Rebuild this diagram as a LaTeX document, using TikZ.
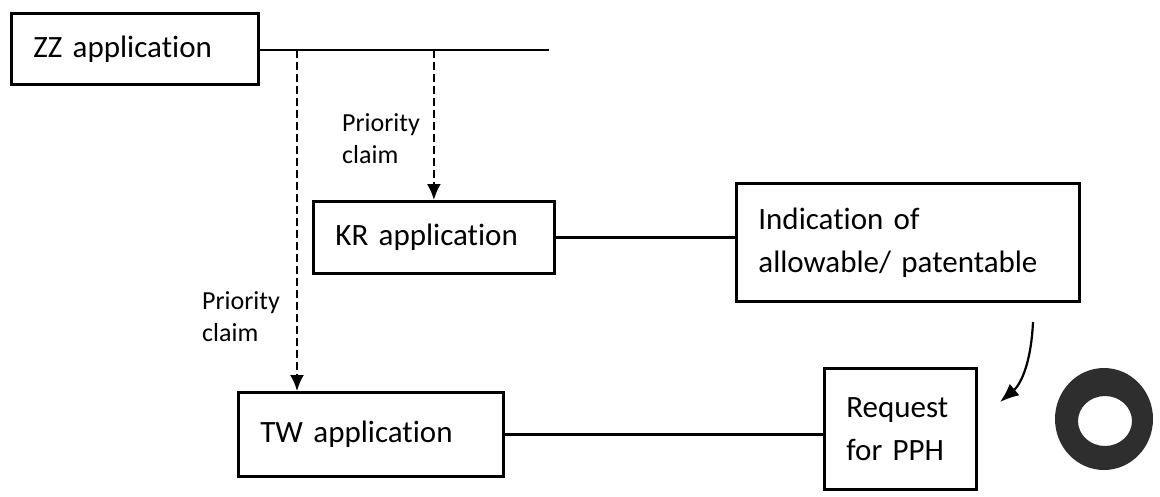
\documentclass[tikz,border=0pt]{standalone}
\usepackage{fontspec}
\setmainfont{Carlito}[Ligatures=NoCommon,WordSpace=0.75]
\usetikzlibrary{arrows.meta}
\tikzset{
  box/.style={draw,line width=2.8pt,inner xsep=22pt,inner ysep=0pt,align=left,
    anchor=north west,font=\fontsize{31}{43}\selectfont},
  lbl/.style={inner sep=0pt,align=left,anchor=west,font=\fontsize{26}{32}\selectfont},
  conn/.style={line width=2.2pt},
  dasharrow/.style={line width=2.2pt,dash pattern=on 8pt off 4pt,-{Latex[length=16pt,width=14pt]}},
  curvearrow/.style={line width=2.2pt,-{Latex[length=19pt,width=15pt]}}
}
\begin{document}
\begin{tikzpicture}[x=1pt,y=-1pt]
\useasboundingbox (0,0) rectangle (1160,496);
\node[box,text width=203pt,minimum height=71pt] (zz) at (10,12) {ZZ application};
\node[box,text width=197pt,minimum height=72pt] (kr) at (312,200) {KR application};
\node[box,text width=221pt,minimum height=84pt] (tw) at (237,391) {TW application};
\node[box,text width=299pt,minimum height=118pt] (ind) at (735,182) {Indication of\\allowable/ patentable};
\node[box,text width=108pt,minimum height=121pt] (req) at (823,367) {Request\\for PPH};
\node[lbl] (l1) at (342,139) {Priority\\claim};
\node[lbl] (l2) at (202,317) {Priority\\claim};
\coordinate (zzend) at (549,50);
\coordinate (p1) at (297,50);
\draw[conn] (zz.east |- zzend) -- (zzend);
\draw[dasharrow] (p1) -- (p1 |- tw.north);
\draw[dasharrow] (kr.north |- zzend) -- (kr.north);
\draw[conn] (kr.east) -- (kr.east -| ind.west);
\draw[conn] (tw.east) -- (tw.east -| req.west);
\coordinate (cstart) at (1033,322);
\coordinate (cend) at (1000,402);
\draw[curvearrow] (cstart) .. controls (1031,365) and (1020,385) .. (cend);
\fill[black!82,even odd rule] (1104,419) ellipse[x radius=49,y radius=51]
  (1105,421) ellipse[x radius=27,y radius=25];
\end{tikzpicture}
\end{document}
